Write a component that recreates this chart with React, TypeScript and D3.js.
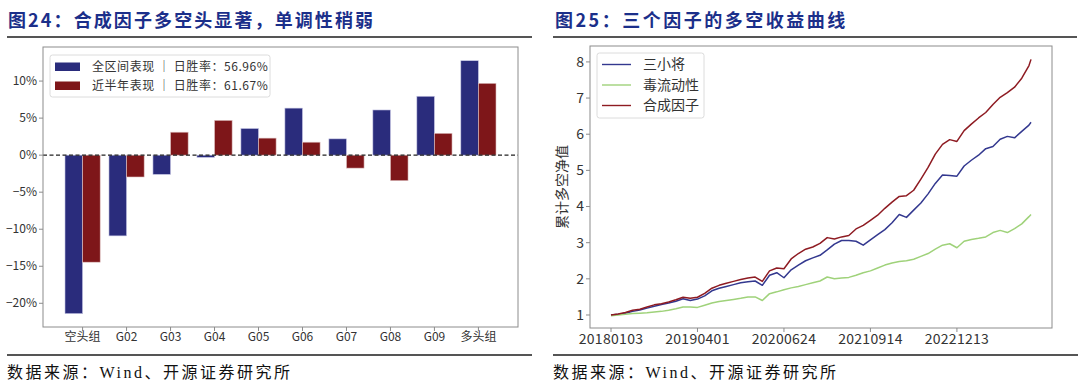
import React from "react";
import * as d3 from "d3";

// ---------- Left chart data ----------
const groups = ["空头组", "G02", "G03", "G04", "G05", "G06", "G07", "G08", "G09", "多头组"];
const fullPeriod = [-21.4, -10.9, -2.6, -0.3, 3.6, 6.35, 2.2, 6.1, 7.95, 12.75];
const halfYear = [-14.45, -2.95, 3.1, 4.7, 2.3, 1.75, -1.75, -3.45, 2.95, 9.7];
const leftYTicks = [-20, -15, -10, -5, 0, 5, 10];
const legendLeft = ["全区间表现 ｜ 日胜率：56.96%", "近半年表现 ｜ 日胜率：61.67%"];

// ---------- Right chart data ----------
const sampleIdx = [
  0, 25, 50, 75, 100, 125, 150, 175, 200, 225, 250, 275, 300, 325, 350, 375, 400, 425, 450, 475,
  500, 525, 550, 575, 600, 625, 650, 675, 700, 725, 750, 775, 800, 825, 850, 875, 900, 925, 950, 975,
  1000, 1025, 1050, 1075, 1100, 1125, 1150, 1175, 1200, 1225, 1250, 1275, 1300, 1325, 1350, 1375, 1400, 1425, 1450, 1457,
];
const sanXiaoJiang = [
  1.0, 1.02, 1.05, 1.1, 1.14, 1.19, 1.24, 1.29, 1.33, 1.38, 1.45, 1.4, 1.44, 1.53, 1.67, 1.74, 1.79, 1.84, 1.89, 1.92,
  1.94, 1.82, 2.1, 2.17, 2.03, 2.25, 2.38, 2.5, 2.58, 2.65, 2.8, 2.96, 3.06, 3.06, 3.04, 2.93, 3.08, 3.22, 3.36, 3.55,
  3.78, 3.7, 3.9, 4.1, 4.35, 4.64, 4.87, 4.86, 4.84, 5.12, 5.28, 5.42, 5.6, 5.66, 5.86, 5.94, 5.9, 6.08, 6.25, 6.33,
];
const duLiuDong = [
  0.98, 1.0, 1.02, 1.04, 1.05, 1.06, 1.08, 1.1, 1.13, 1.17, 1.22, 1.22, 1.21, 1.27, 1.33, 1.37, 1.4, 1.43, 1.46, 1.5,
  1.5, 1.4, 1.59, 1.64, 1.7, 1.75, 1.79, 1.84, 1.89, 1.94, 2.05, 2.0, 2.02, 2.04, 2.1, 2.17, 2.22, 2.3, 2.38, 2.44,
  2.48, 2.5, 2.54, 2.62, 2.7, 2.82, 2.93, 2.97, 2.86, 3.04, 3.09, 3.12, 3.16, 3.28, 3.34, 3.28, 3.39, 3.52, 3.72, 3.78,
];
const heCheng = [
  1.0, 1.03, 1.07, 1.13, 1.16, 1.22, 1.28, 1.31, 1.36, 1.42, 1.49, 1.46, 1.49, 1.6, 1.74, 1.82, 1.88, 1.93, 1.98, 2.02,
  2.05, 1.93, 2.22, 2.3, 2.28, 2.55, 2.7, 2.82, 2.88, 2.98, 3.14, 3.1, 3.16, 3.2, 3.38, 3.48, 3.62, 3.76, 3.95, 4.12,
  4.28, 4.3, 4.45, 4.76, 5.08, 5.45, 5.72, 5.85, 5.8, 6.1, 6.28, 6.45, 6.6, 6.82, 7.02, 7.15, 7.3, 7.55, 7.9, 8.07,
];
const rightXTickIdx = [0, 300, 600, 900, 1200];
const rightXTickLabels = ["20180103", "20190401", "20200624", "20210914", "20221213"];
const rightYTicks = [1, 2, 3, 4, 5, 6, 7, 8];
const seriesNames = ["三小将", "毒流动性", "合成因子"];

const BLUE_BAR = "#2a2c7c";
const RED_BAR = "#7e1619";
const LINE_COLORS = ["#33388f", "#9fd27a", "#8e1b22"];
const TITLE_COLOR = "#1b2f8a";
const AXIS = "#8c8c8c";
const TEXT = "#333";
const CJK = "'Noto Sans CJK SC', 'Noto Sans', sans-serif";

function LeftChart() {
  const x = d3.scaleLinear().domain([-0.9, 9.9]).range([43, 518]);
  const y = d3.scaleLinear().domain([-23.2, 14.6]).range([327, 47]);
  const bw = x(0.4) - x(0);
  return (
    <g>
      <text x={8} y={27} fontFamily={CJK} fontWeight={700} fontSize={18} letterSpacing={2.1} fill={TITLE_COLOR}>
        图24：合成因子多空头显著，单调性稍弱
      </text>
      <line x1={7} x2={532} y1={37} y2={37} stroke="#555" strokeWidth={2} />
      {groups.map((g, i) => (
        <g key={g}>
          <rect x={x(i) - bw} width={bw} y={y(Math.max(0, fullPeriod[i]))} height={Math.abs(y(fullPeriod[i]) - y(0))} fill={BLUE_BAR} stroke="#c9c9e6" strokeWidth={0.6} />
          <rect x={x(i)} width={bw} y={y(Math.max(0, halfYear[i]))} height={Math.abs(y(halfYear[i]) - y(0))} fill={RED_BAR} stroke="#e0c4c4" strokeWidth={0.6} />
        </g>
      ))}
      <line x1={43} x2={518} y1={y(0)} y2={y(0)} stroke="#222" strokeWidth={1.1} strokeDasharray="4,2.5" />
      <rect x={43} y={47} width={475} height={280} fill="none" stroke={AXIS} strokeWidth={1} />
      {leftYTicks.map((t) => (
        <g key={t}>
          <line x1={39} x2={43} y1={y(t)} y2={y(t)} stroke={AXIS} />
          <text x={37} y={y(t)} dy="0.35em" textAnchor="end" fontFamily={CJK} fontSize={12} fill={TEXT}>
            {(t < 0 ? "−" + Math.abs(t) : t) + "%"}
          </text>
        </g>
      ))}
      {groups.map((g, i) => (
        <g key={"xt" + g}>
          <line x1={x(i)} x2={x(i)} y1={327} y2={331} stroke={AXIS} />
          <text x={x(i)} y={341} textAnchor="middle" fontFamily={CJK} fontSize={12} fill={TEXT}>
            {g}
          </text>
        </g>
      ))}
      <rect x={50} y={55} width={220} height={42} rx={2.5} fill="#fff" fillOpacity={0.9} stroke="#dcdcdc" />
      {legendLeft.map((l, i) => (
        <g key={l}>
          <rect x={55} y={62.5 + i * 19} width={25} height={8.5} fill={i === 0 ? BLUE_BAR : RED_BAR} />
          <text x={92} y={67 + i * 19} dy="0.35em" fontFamily={CJK} fontSize={12} letterSpacing={0.55} fill={TEXT}>
            {l}
          </text>
        </g>
      ))}
      <line x1={7} x2={532} y1={355} y2={355} stroke="#555" strokeWidth={2} />
      <text x={7} y={378} fontFamily="'Liberation Serif', 'Noto Sans CJK SC', serif" fontSize={16} letterSpacing={2.5} fill="#111">
        数据来源：Wind、开源证券研究所
      </text>
    </g>
  );
}

function RightChart() {
  const n = 1457;
  const x = d3.scaleLinear().domain([-0.05 * n, 1.05 * n]).range([590, 1052]);
  const y = d3.scaleLinear().domain([0.64, 8.44]).range([328, 46]);
  const all = [sanXiaoJiang, duLiuDong, heCheng];
  const line = d3
    .line<number>()
    .x((_, i) => x(sampleIdx[i]))
    .y((d) => y(d));
  return (
    <g>
      <text x={555} y={27} fontFamily={CJK} fontWeight={700} fontSize={18} letterSpacing={2.5} fill={TITLE_COLOR}>
        图25：三个因子的多空收益曲线
      </text>
      <line x1={553} x2={1077} y1={37} y2={37} stroke="#555" strokeWidth={2} />
      {all.map((s, k) => (
        <path key={k} d={line(s) || ""} fill="none" stroke={LINE_COLORS[k]} strokeWidth={1.5} strokeLinejoin="round" />
      ))}
      <rect x={590} y={46} width={462} height={282} fill="none" stroke={AXIS} strokeWidth={1} />
      {rightYTicks.map((t) => (
        <g key={t}>
          <line x1={586} x2={590} y1={y(t)} y2={y(t)} stroke={AXIS} />
          <text x={584} y={y(t)} dy="0.35em" textAnchor="end" fontFamily={CJK} fontSize={14} fill={TEXT}>
            {t}
          </text>
        </g>
      ))}
      {rightXTickIdx.map((t, i) => (
        <g key={t}>
          <line x1={x(t)} x2={x(t)} y1={328} y2={332} stroke={AXIS} />
          <text x={x(t)} y={344} textAnchor="middle" fontFamily={CJK} fontSize={14} letterSpacing={0.3} fill={TEXT}>
            {rightXTickLabels[i]}
          </text>
        </g>
      ))}
      <text transform={`translate(567,187) rotate(-90)`} textAnchor="middle" fontFamily={CJK} fontSize={14} fill={TEXT}>
        累计多空净值
      </text>
      <rect x={597} y={53} width={107} height={65} rx={2.5} fill="#fff" fillOpacity={0.9} stroke="#dcdcdc" />
      {seriesNames.map((s, i) => (
        <g key={s}>
          <line x1={602} x2={631} y1={64.5 + i * 20.5} y2={64.5 + i * 20.5} stroke={LINE_COLORS[i]} strokeWidth={1.4} />
          <text x={643} y={64.5 + i * 20.5} dy="0.35em" fontFamily={CJK} fontSize={14} fill={TEXT}>
            {s}
          </text>
        </g>
      ))}
      <line x1={553} x2={1078} y1={355} y2={355} stroke="#555" strokeWidth={2} />
      <text x={553} y={378} fontFamily="'Liberation Serif', 'Noto Sans CJK SC', serif" fontSize={16} letterSpacing={2.5} fill="#111">
        数据来源：Wind、开源证券研究所
      </text>
    </g>
  );
}

export default function App() {
  return (
    <svg
      width={1080}
      height={392}
      style={{ position: "absolute", left: 0, top: 0, background: "#fff" }}
      xmlns="http://www.w3.org/2000/svg"
    >
      <rect width={1080} height={392} fill="#fff" />
      <LeftChart />
      <RightChart />
    </svg>
  );
}
